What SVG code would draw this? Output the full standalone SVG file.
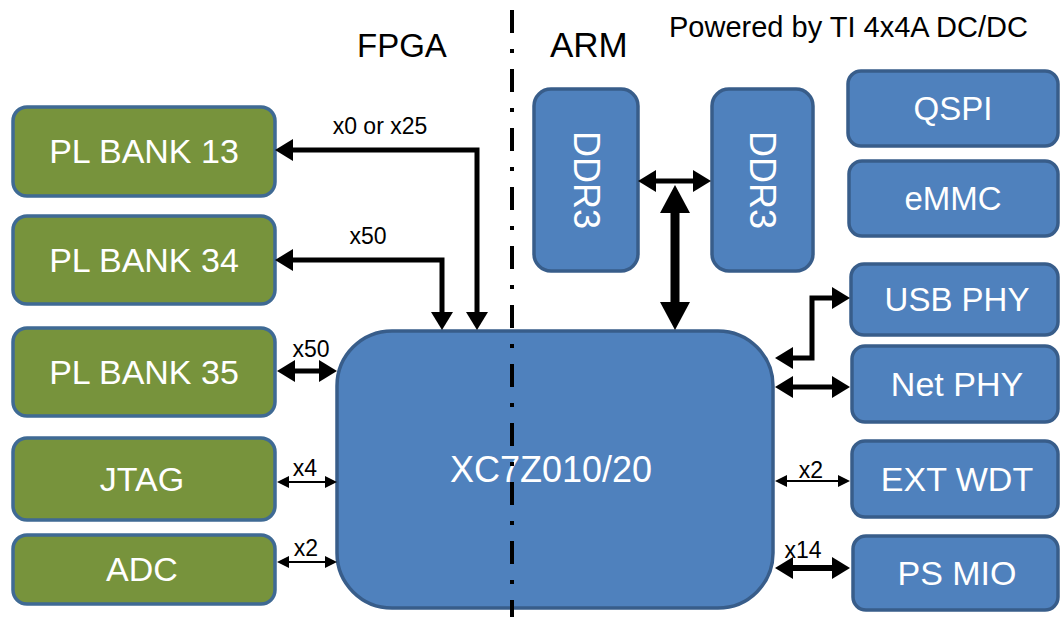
<svg xmlns="http://www.w3.org/2000/svg" width="1061" height="617" viewBox="0 0 1061 617">
<style>
.g{fill:#77933C;stroke:#3F6A94;stroke-width:3.5}
.b{fill:#4F81BD;stroke:#385D8A;stroke-width:3.5}
.lbl{font-family:"Liberation Sans",Arial,sans-serif;fill:#FFFFFF;text-anchor:middle}
.t{font-family:"Liberation Sans",Arial,sans-serif;fill:#000000}
.s{font-family:"Liberation Sans",Arial,sans-serif;fill:#000000;font-size:23px;text-anchor:middle}
.thick{fill:none;stroke:#000;stroke-width:5;marker-start:url(#big);marker-end:url(#big)}
.thin{fill:none;stroke:#000;stroke-width:2;marker-start:url(#sm);marker-end:url(#sm)}
.huge{fill:none;stroke:#000;stroke-width:9;marker-start:url(#hg);marker-end:url(#hg)}
</style>
<defs>
<marker id="big" markerUnits="userSpaceOnUse" viewBox="0 0 18 22" markerWidth="18" markerHeight="22" refX="6" refY="11" orient="auto-start-reverse"><path d="M0,0 L18,11 L0,22 z" fill="#000"/></marker>
<marker id="sm" markerUnits="userSpaceOnUse" viewBox="0 0 12 12" markerWidth="12" markerHeight="12" refX="4" refY="6" orient="auto-start-reverse"><path d="M0,0 L12,6 L0,12 z" fill="#000"/></marker>
<marker id="hg" markerUnits="userSpaceOnUse" viewBox="0 0 28 30" markerWidth="28" markerHeight="30" refX="8" refY="15" orient="auto-start-reverse"><path d="M0,0 L28,15 L0,30 z" fill="#000"/></marker>
</defs>
<rect width="1061" height="617" fill="#FFFFFF"/>

<g id="titles">
<text class="t" x="357" y="57" font-size="33">FPGA</text>
<text class="t" x="550" y="57" font-size="35">ARM</text>
<text class="t" x="669" y="37" font-size="29">Powered by TI 4x4A DC/DC</text>
</g>

<g id="pl13"><rect class="g" x="13" y="107" width="262" height="89" rx="14"/><text class="lbl" x="144" y="163" font-size="34">PL BANK 13</text></g>
<g id="pl34"><rect class="g" x="13" y="216" width="262" height="88" rx="14"/><text class="lbl" x="144" y="272" font-size="34">PL BANK 34</text></g>
<g id="pl35"><rect class="g" x="13" y="328" width="262" height="88" rx="14"/><text class="lbl" x="144" y="384" font-size="34">PL BANK 35</text></g>
<g id="jtag"><rect class="g" x="13" y="438" width="262" height="82" rx="14"/><text class="lbl" x="142" y="491" font-size="34">JTAG</text></g>
<g id="adc"><rect class="g" x="13" y="535" width="262" height="69" rx="14"/><text class="lbl" x="142" y="581" font-size="34">ADC</text></g>

<g id="chip"><rect class="b" x="337" y="331" width="436" height="277" rx="55"/><text class="lbl" x="551" y="482" font-size="36">XC7Z010/20</text></g>

<g id="ddr3a"><rect class="b" x="534" y="89" width="104" height="182" rx="17"/><text class="lbl" font-size="36" transform="translate(586,180) rotate(90)" dominant-baseline="central">DDR3</text></g>
<g id="ddr3b"><rect class="b" x="712" y="89" width="101" height="182" rx="17"/><text class="lbl" font-size="36" transform="translate(762,180) rotate(90)" dominant-baseline="central">DDR3</text></g>

<g id="qspi"><rect class="b" x="848" y="71" width="210" height="75" rx="13"/><text class="lbl" x="953" y="120" font-size="33">QSPI</text></g>
<g id="emmc"><rect class="b" x="849" y="161" width="209" height="75" rx="13"/><text class="lbl" x="953" y="210" font-size="33">eMMC</text></g>
<g id="usbphy"><rect class="b" x="851" y="264" width="207" height="71" rx="13"/><text class="lbl" x="957" y="311" font-size="33">USB PHY</text></g>
<g id="netphy"><rect class="b" x="852" y="346" width="206" height="76" rx="13"/><text class="lbl" x="957" y="396" font-size="34">Net PHY</text></g>
<g id="extwdt"><rect class="b" x="852" y="441" width="206" height="76" rx="13"/><text class="lbl" x="957" y="491" font-size="34">EXT WDT</text></g>
<g id="psmio"><rect class="b" x="853" y="536" width="205" height="74" rx="13"/><text class="lbl" x="957" y="585" font-size="34">PS MIO</text></g>

<g id="connectors">
<path class="thick" d="M477,318 L477,150 L287,150"/>
<path class="thick" d="M442,318 L442,260 L287,260"/>
<path class="thick" d="M289,371 L325,371"/>
<path class="thin" d="M285,482 L329,482"/>
<path class="thin" d="M285,562 L329,562"/>
<path class="thick" d="M650,181 L699,181"/>
<path class="huge" d="M675,205 L675,310"/>
<path class="thick" d="M787,358 L812,358 L812,298 L838,298"/>
<path class="thick" d="M787,387 L838,387"/>
<path class="thin" d="M783,481 L842,481"/>
<path class="thick" style="stroke-width:6" d="M787,568 L838,568"/>
<text class="s" x="380" y="134">x0 or x25</text>
<text class="s" x="368" y="244">x50</text>
<text class="s" x="311" y="357">x50</text>
<text class="s" x="305" y="476">x4</text>
<text class="s" x="306" y="556">x2</text>
<text class="s" x="811" y="478">x2</text>
<text class="s" x="803" y="558">x14</text>
</g>

<g id="divider"><line x1="512" y1="10" x2="512" y2="617" stroke="#000" stroke-width="4" stroke-dasharray="23 16 4 16"/></g>
</svg>
